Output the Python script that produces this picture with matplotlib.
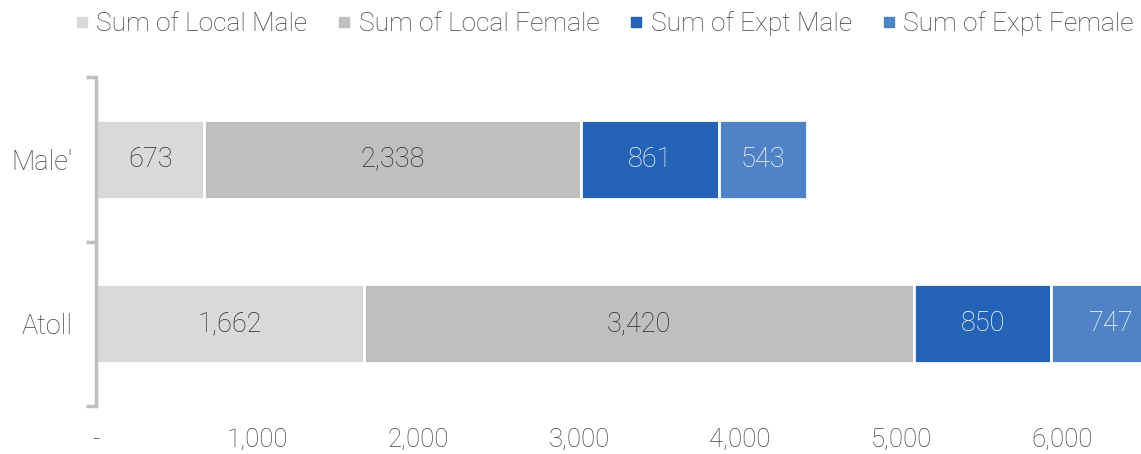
import matplotlib
matplotlib.use("Agg")
import matplotlib.pyplot as plt
from matplotlib.lines import Line2D

plt.rcParams['font.family'] = ['Roboto', 'DejaVu Sans']

# data
categories = ["Atoll", "Male'"]
series_names = ["Sum of Local Male", "Sum of Local Female", "Sum of Expt Male", "Sum of Expt Female"]
local_male = [1662, 673]
local_female = [3420, 2338]
expt_male = [850, 861]
expt_female = [747, 543]
x_ticks = [0, 1000, 2000, 3000, 4000, 5000, 6000]
x_tick_labels = ["-", "1,000", "2,000", "3,000", "4,000", "5,000", "6,000"]

colors = ["#D9D9D9", "#BFBFBF", "#2463B6", "#5083C6"]
label_colors = ["#2B2B2B", "#2B2B2B", "white", "white"]
txt = "#404040"

fig = plt.figure(figsize=(11.41, 4.54), dpi=100)
# plot area runs past the right edge, like the original screenshot
ax = fig.add_axes([96 / 1141, 48 / 454, 1127 / 1141, 329 / 454])

y = range(len(categories))
left = [0] * len(categories)
for vals, c, lc in zip([local_male, local_female, expt_male, expt_female], colors, label_colors):
    bars = ax.barh(y, vals, left=left, height=0.48, color=c, edgecolor="white", linewidth=2)
    ax.bar_label(bars, labels=[f"{v:,}" for v in vals], label_type="center",
                 color=lc, fontsize=19.5, fontweight="light")
    left = [a + b for a, b in zip(left, vals)]

ax.set_xlim(0, 7000)
ax.set_ylim(-0.5, 1.5)
ax.set_xticks(x_ticks)
ax.set_xticklabels(x_tick_labels, fontsize=18.5, color=txt, fontweight="light")
ax.tick_params(axis="x", length=0, pad=16)

ax.set_yticks(list(y))
ax.set_yticklabels(categories, fontsize=19.5, color=txt, fontweight="light")
ax.set_yticks([-0.5, 0.5, 1.5], minor=True)
ax.tick_params(axis="y", which="major", length=0, pad=17)
ax.tick_params(axis="y", which="minor", length=7, width=2.5, color="#BFBFBF")

for s in ["top", "right", "bottom"]:
    ax.spines[s].set_visible(False)
ax.spines["left"].set_color("#BFBFBF")
ax.spines["left"].set_linewidth(2.5)

handles = [Line2D([], [], marker="s", linestyle="none", markersize=7.5, color=c) for c in colors]
fig.legend(handles, series_names, loc="center", bbox_to_anchor=(605 / 1141, 1 - 24 / 454),
           ncol=4, frameon=False, handlelength=0.4, handletextpad=0.35, columnspacing=1.2,
           prop={"size": 19, "weight": "light"}, labelcolor=txt)

fig.savefig("out.png", dpi=100)
